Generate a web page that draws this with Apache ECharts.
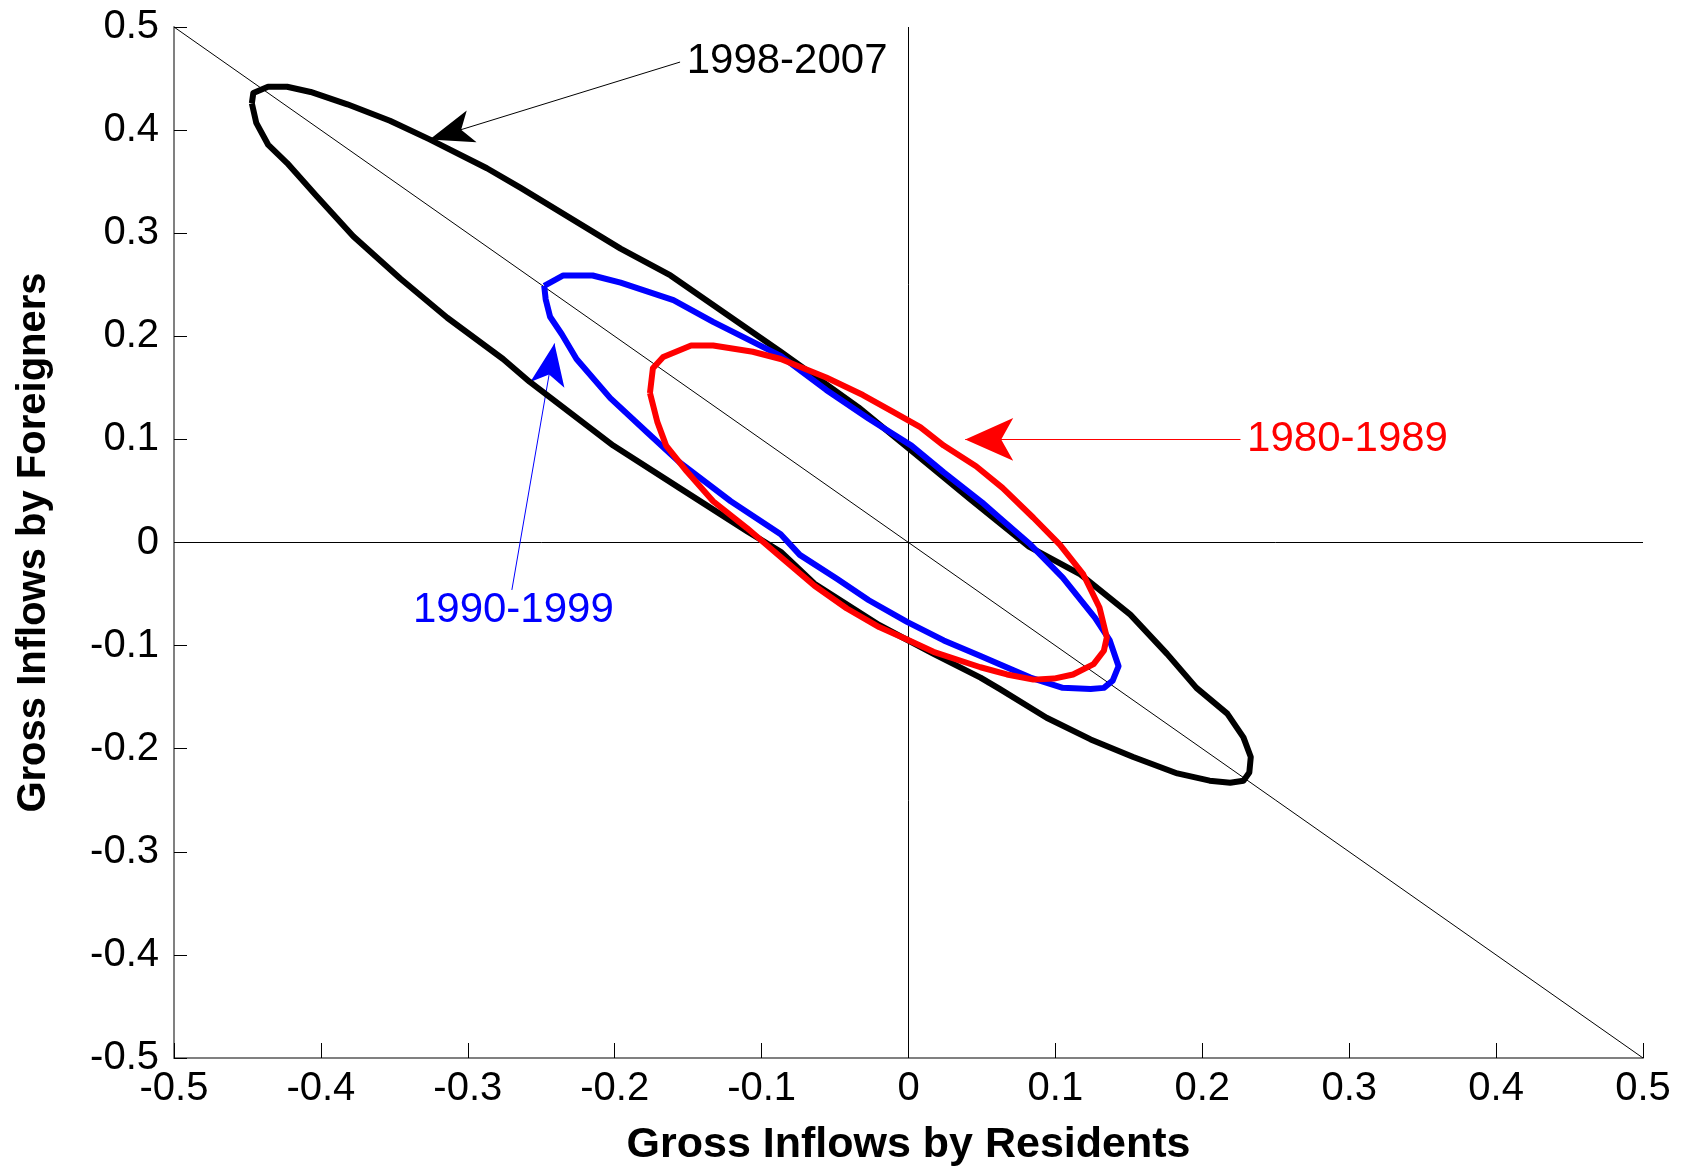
<!DOCTYPE html>
<html>
<head>
<meta charset="utf-8">
<script src="https://cdn.jsdelivr.net/npm/echarts@6/dist/echarts.min.js"></script>
<style>
  html, body { margin: 0; padding: 0; background: #fff; }
  #chart { width: 1682px; height: 1172px; }
</style>
</head>
<body>
<div id="chart"></div>
<script>
// --- Data (x = residents, y = foreigners) ---
const ellipse1998 = [
  [-0.447, 0.426], [-0.446, 0.436], [-0.436, 0.442], [-0.423, 0.442], [-0.407, 0.437],
  [-0.382, 0.425], [-0.353, 0.409], [-0.326, 0.391], [-0.287, 0.363], [-0.264, 0.344],
  [-0.196, 0.285], [-0.162, 0.259], [-0.087, 0.185], [-0.034, 0.131], [0.002, 0.089],
  [0.042, 0.042], [0.082, -0.004], [0.117, -0.031], [0.151, -0.070], [0.176, -0.108],
  [0.196, -0.141], [0.217, -0.166], [0.228, -0.189], [0.233, -0.208], [0.232, -0.223],
  [0.228, -0.231], [0.219, -0.233], [0.205, -0.231], [0.183, -0.224], [0.153, -0.208],
  [0.124, -0.191], [0.094, -0.170], [0.062, -0.142], [0.049, -0.131], [0.017, -0.108],
  [-0.020, -0.080], [-0.064, -0.040], [-0.087, -0.009], [-0.110, 0.011], [-0.156, 0.053],
  [-0.201, 0.094], [-0.258, 0.156], [-0.276, 0.178], [-0.314, 0.218], [-0.346, 0.256],
  [-0.378, 0.297], [-0.403, 0.336], [-0.423, 0.368], [-0.436, 0.386], [-0.444, 0.407],
  [-0.447, 0.426]
];
const ellipse1990 = [
  [-0.248, 0.249], [-0.235, 0.259], [-0.215, 0.259], [-0.196, 0.252], [-0.160, 0.235],
  [-0.133, 0.214], [-0.087, 0.181], [-0.056, 0.148], [-0.027, 0.120], [0.002, 0.094],
  [0.024, 0.068], [0.050, 0.039], [0.062, 0.024], [0.083, -0.002], [0.105, -0.034],
  [0.127, -0.073], [0.137, -0.095], [0.143, -0.120], [0.139, -0.134], [0.133, -0.141],
  [0.124, -0.142], [0.105, -0.141], [0.083, -0.131], [0.062, -0.118], [0.049, -0.110],
  [0.024, -0.095], [-0.001, -0.077], [-0.027, -0.056], [-0.049, -0.035], [-0.074, -0.012],
  [-0.087, 0.008], [-0.121, 0.040], [-0.156, 0.078], [-0.178, 0.107], [-0.203, 0.140],
  [-0.226, 0.178], [-0.236, 0.202], [-0.244, 0.219], [-0.247, 0.236], [-0.248, 0.249]
];
const ellipse1980 = [
  [-0.176, 0.145], [-0.174, 0.169], [-0.167, 0.180], [-0.148, 0.191], [-0.133, 0.191],
  [-0.106, 0.185], [-0.087, 0.178], [-0.056, 0.160], [-0.031, 0.143], [-0.012, 0.128],
  [0.008, 0.112], [0.024, 0.094], [0.046, 0.074], [0.064, 0.053], [0.085, 0.024],
  [0.103, -0.002], [0.119, -0.031], [0.130, -0.063], [0.135, -0.092], [0.133, -0.105],
  [0.126, -0.118], [0.112, -0.128], [0.099, -0.132], [0.085, -0.133], [0.067, -0.128],
  [0.049, -0.121], [0.017, -0.106], [-0.001, -0.094], [-0.020, -0.082], [-0.042, -0.064],
  [-0.064, -0.042], [-0.087, -0.014], [-0.110, 0.014], [-0.133, 0.040], [-0.151, 0.069],
  [-0.165, 0.094], [-0.171, 0.117], [-0.176, 0.145]
];
const diagonal = [[-0.5, 0.5], [0.5, -0.5]];

// annotation text anchors and arrows (from -> tip)
const labels = [
  { name: '1998-2007', value: [-0.151, 0.467], color: '#000000', position: 'right' },
  { name: '1980-1989', value: [0.2305, 0.100], color: '#ff0000', position: 'right' },
  { name: '1990-1999', value: [-0.269, -0.066], color: '#0000ff', position: 'inside' }
];
const arrows = [
  { from: [-0.1555, 0.466], to: [-0.326, 0.391], color: '#000000', size: [25, 44] },
  { from: [0.226, 0.100], to: [0.0386, 0.100], color: '#ff0000', size: [32, 48] },
  { from: [-0.270, -0.046], to: [-0.241, 0.193], color: '#0000ff', size: [26, 42] }
];

const xTicks = { min: -0.5, max: 0.5, interval: 0.1 };
const yTicks = { min: -0.5, max: 0.5, interval: 0.1 };

const FONT = '"Liberation Sans", Arial, sans-serif';

const chart = echarts.init(document.getElementById('chart'), null, { renderer: 'canvas' });

function ellipseSeries(name, data, color) {
  return {
    name, type: 'line', data,
    showSymbol: false, symbol: 'none', smooth: false,
    lineStyle: { color, width: 6, join: 'round' },
    silent: true, animation: false, z: 5
  };
}

const option = {
  backgroundColor: '#ffffff',
  animation: false,
  grid: { left: 174, right: 39, top: 27, bottom: 110, containLabel: false },
  xAxis: {
    type: 'value',
    min: xTicks.min, max: xTicks.max, interval: xTicks.interval,
    name: 'Gross Inflows by Residents',
    nameLocation: 'middle', nameGap: 66,
    nameTextStyle: { fontFamily: FONT, fontWeight: 'bold', fontSize: 43, color: '#000' },
    axisLine: { show: true, onZero: false, lineStyle: { color: '#808080', width: 2 } },
    axisTick: { show: true, inside: true, length: 15, lineStyle: { color: '#000', width: 1 } },
    axisLabel: { fontFamily: FONT, fontSize: 40, color: '#000', margin: 11 },
    splitLine: { show: false }
  },
  yAxis: {
    type: 'value',
    min: yTicks.min, max: yTicks.max, interval: yTicks.interval,
    name: 'Gross Inflows by Foreigners',
    nameLocation: 'middle', nameGap: 120,
    nameTextStyle: { fontFamily: FONT, fontWeight: 'bold', fontSize: 40, color: '#000' },
    axisLine: { show: true, onZero: false, lineStyle: { color: '#808080', width: 2 } },
    axisTick: { show: true, inside: true, length: 13, lineStyle: { color: '#000', width: 1 } },
    axisLabel: { fontFamily: FONT, fontSize: 40, color: '#000', margin: 15 },
    splitLine: { show: false }
  },
  series: [
    {
      name: 'diagonal', type: 'line', data: diagonal,
      showSymbol: false, symbol: 'none',
      lineStyle: { color: '#000', width: 1 },
      silent: true, z: 2,
      markLine: {
        silent: true, symbol: 'none', label: { show: false },
        lineStyle: { color: '#000', width: 1, type: 'solid' },
        data: [{ xAxis: 0 }, { yAxis: 0 }]
      }
    },
    ellipseSeries('1998-2007', ellipse1998, '#000000'),
    ellipseSeries('1990-1999', ellipse1990, '#0000ff'),
    ellipseSeries('1980-1989', ellipse1980, '#ff0000'),
    {
      name: 'annotations', type: 'scatter', symbolSize: 0, silent: true, z: 10,
      itemStyle: { opacity: 1 },
      data: labels.map(l => ({
        name: l.name, value: l.value,
        label: {
          show: true, formatter: '{b}', position: l.position, distance: 0,
          fontFamily: FONT, fontSize: 42, color: l.color, opacity: 1
        }
      })),
      markLine: {
        silent: true, animation: false,
        symbol: ['none', 'arrow'],
        label: { show: false },
        data: arrows.map(a => [
          { coord: a.from, symbolSize: a.size, lineStyle: { color: a.color, width: 1, type: 'solid', opacity: 1 } },
          { coord: a.to, symbolSize: a.size, itemStyle: { color: a.color, opacity: 1 } }
        ])
      }
    }
  ]
};

chart.setOption(option);
</script>
</body>
</html>
